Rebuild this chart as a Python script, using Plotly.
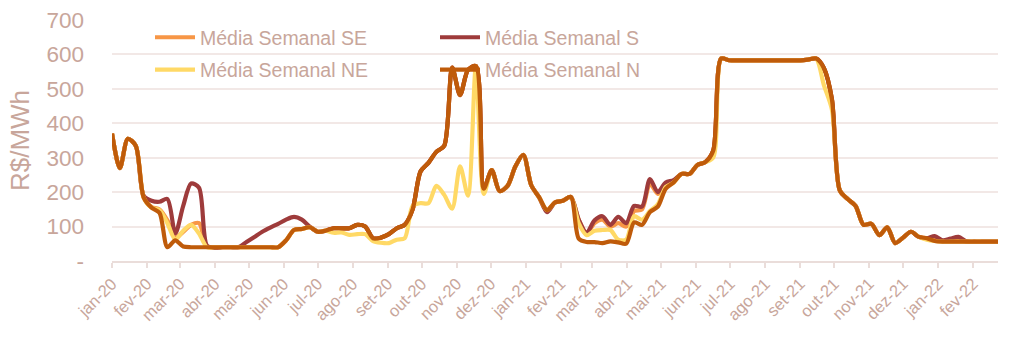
import pandas as pd
import plotly.graph_objects as go

# weekly dates (one point per week)
dates = pd.date_range("2020-01-01", periods=113, freq="7D")

media_se = [370, 270, 355, 335, 185, 157, 150, 118, 68, 85,
            105, 110, 42, 40, 40, 40, 40, 40, 40, 40,
            40, 40, 60, 90, 93, 98, 85, 88, 95, 95,
            95, 105, 100, 66, 68, 78, 95, 105, 150, 260,
            285, 317, 335, 562, 482, 555, 566, 210, 264, 203,
            218, 275, 308, 220, 185, 145, 170, 175, 186, 120,
            80, 110, 120, 100, 110, 100, 145, 150, 225, 195,
            225, 233, 253, 253, 279, 287, 320, 588, 583, 583,
            583, 583, 583, 583, 583, 583, 583, 583, 585, 588,
            560, 470, 205, 180, 160, 105, 108, 75, 98, 52,
            68, 85, 70, 66, 62, 58, 60, 62, 56, 56,
            56, 56, 56]

media_s = [370, 270, 355, 335, 190, 175, 172, 180, 80, 160,
           225, 213, 45, 38, 40, 40, 40, 55, 70, 85,
           97, 108, 120, 128, 120, 100, 85, 88, 95, 95,
           95, 105, 100, 66, 68, 78, 95, 105, 150, 260,
           285, 317, 335, 562, 482, 555, 566, 210, 264, 203,
           218, 275, 308, 220, 185, 142, 170, 175, 186, 120,
           82, 118, 130, 105, 128, 110, 160, 158, 238, 200,
           228, 235, 253, 253, 279, 287, 320, 588, 583, 583,
           583, 583, 583, 583, 583, 583, 583, 583, 585, 588,
           560, 470, 205, 180, 160, 105, 108, 75, 98, 52,
           68, 85, 70, 66, 72, 60, 65, 70, 57, 56,
           56, 56, 56]

media_ne = [370, 270, 355, 335, 185, 155, 148, 110, 62, 88,
            105, 80, 40, 40, 40, 40, 40, 40, 40, 40,
            40, 40, 60, 90, 93, 98, 85, 88, 82, 83,
            76, 78, 78, 58, 53, 52, 62, 66, 160, 168,
            168, 218, 192, 152, 275, 190, 566, 195, 264, 203,
            218, 275, 308, 220, 185, 148, 170, 175, 186, 110,
            75, 88, 90, 90, 62, 62, 130, 120, 145, 165,
            215, 228, 253, 253, 279, 287, 300, 588, 583, 583,
            583, 583, 583, 583, 583, 583, 583, 583, 585, 588,
            510, 440, 205, 180, 160, 105, 108, 75, 98, 52,
            68, 85, 70, 62, 58, 56, 56, 56, 56, 56,
            56, 56, 56]

media_n = [370, 270, 355, 335, 185, 155, 140, 40, 60, 42,
           40, 40, 40, 40, 40, 40, 40, 40, 40, 40,
           40, 40, 60, 90, 93, 98, 85, 88, 95, 95,
           95, 105, 100, 66, 68, 78, 95, 105, 150, 260,
           285, 317, 335, 562, 482, 555, 566, 210, 264, 203,
           218, 275, 308, 220, 185, 148, 170, 175, 186, 65,
           55, 55, 52, 57, 54, 50, 112, 105, 142, 158,
           210, 228, 253, 253, 279, 287, 320, 588, 583, 583,
           583, 583, 583, 583, 583, 583, 583, 583, 585, 588,
           560, 470, 205, 180, 160, 105, 108, 75, 98, 52,
           68, 85, 70, 66, 58, 56, 56, 56, 56, 56,
           56, 56, 56]

month_ticks = pd.date_range("2020-01-01", "2022-02-01", freq="MS")
month_labels = ["jan-20", "fev-20", "mar-20", "abr-20", "mai-20", "jun-20",
                "jul-20", "ago-20", "set-20", "out-20", "nov-20", "dez-20",
                "jan-21", "fev-21", "mar-21", "abr-21", "mai-21", "jun-21",
                "jul-21", "ago-21", "set-21", "out-21", "nov-21", "dez-21",
                "jan-22", "fev-22"]
y_ticks = [0, 100, 200, 300, 400, 500, 600, 700]
y_labels = ["-", "100", "200", "300", "400", "500", "600", "700"]

TXT = "#C8A69B"
FONT = "Liberation Sans, Arial, sans-serif"

series = [
    ("Média Semanal SE", media_se, "#F79646", "legend", "g1"),
    ("Média Semanal S", media_s, "#9E3B3B", "legend2", "g3"),
    ("Média Semanal NE", media_ne, "#FFD966", "legend", "g2"),
    ("Média Semanal N", media_n, "#BF5B0A", "legend2", "g4"),
]

fig = go.Figure()
for name, vals, color, leg, grp in series:
    fig.add_trace(go.Scatter(
        x=dates, y=vals, name=name, mode="lines",
        line=dict(color=color, width=4.2, shape="spline", smoothing=0.8),
        legend=leg, legendgroup=grp,
    ))

legend_common = dict(
    bgcolor="rgba(0,0,0,0)", font=dict(family=FONT, size=19.5, color=TXT),
    orientation="v", tracegroupgap=4, itemwidth=40,
    xanchor="left", yanchor="top", xref="paper", yref="paper",
)

fig.update_layout(
    width=1024, height=363,
    margin=dict(l=112, r=26, t=20, b=102, autoexpand=False),
    paper_bgcolor="white", plot_bgcolor="white",
    font=dict(family=FONT, color=TXT),
    showlegend=True,
    legend=dict(x=(150 - 112) / 886, y=1.008, **legend_common),
    legend2=dict(x=(435 - 112) / 886, y=1.008, **legend_common),
    xaxis=dict(
        type="date",
        range=[dates[0], dates[-1]],
        tickvals=month_ticks, ticktext=month_labels,
        tickangle=-45, tickfont=dict(family=FONT, size=16.5, color=TXT),
        showgrid=False, zeroline=False,
        showline=True, linecolor="#EADDDA", linewidth=1.5,
        ticks="outside", ticklen=5, tickcolor="#EADDDA", tickwidth=1.5,
    ),
    yaxis=dict(
        range=[0, 700], tickvals=y_ticks, ticktext=y_labels,
        tickfont=dict(family=FONT, size=22.5, color=TXT),
        showgrid=True, gridcolor="#F2E8E6", gridwidth=1.5,
        zeroline=False, showline=False,
        ticklabelstandoff=27,
        title=dict(text="R$/MWh", font=dict(family=FONT, size=26, color=TXT), standoff=9),
    ),
)

fig.write_html("out.html")
